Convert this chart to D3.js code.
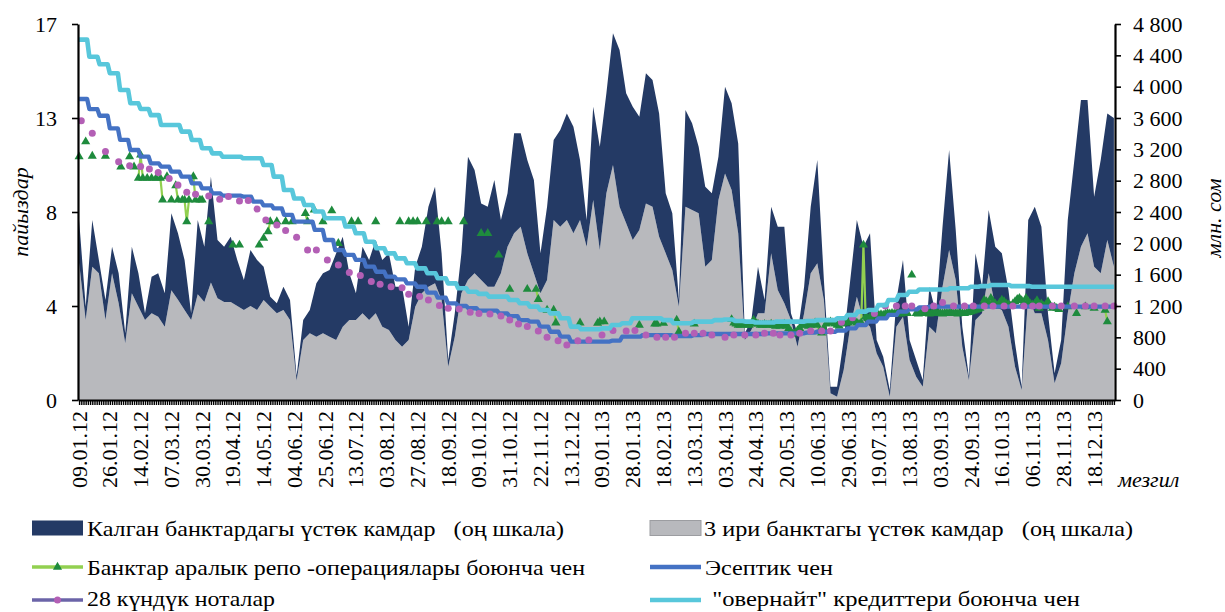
<!DOCTYPE html>
<html><head><meta charset="utf-8">
<script src="https://cdn.jsdelivr.net/npm/d3@7"></script>
<style>
body{margin:0;background:#fff}
svg{display:block}
text{font-family:"Liberation Serif","Times New Roman",serif;fill:#000}
</style>
</head><body>
<svg id="chart" width="1225" height="612"></svg>
<script>
// ---------------- DATA ----------------
const N_DAYS = 472;          // number of daily records on the category axis
const LABEL_STEP = 14;       // a date label every 14 records
const SAMPLE_STEP = 3;       // reserves sampled every 3 records

const xTickLabels = ["09.01.12","26.01.12","14.02.12","07.03.12","30.03.12","19.04.12","14.05.12","04.06.12","25.06.12","13.07.12","03.08.12","27.08.12","18.09.12","09.10.12","31.10.12","22.11.12","13.12.12","09.01.13","28.01.13","18.02.13","13.03.13","03.04.13","24.04.13","20.05.13","10.06.13","29.06.13","19.07.13","13.08.13","03.09.13","24.09.13","16.10.13","06.11.13","28.11.13","18.12.13"];

const leftTickValues = [0, 4.2, 8.4, 12.6, 16.8];
const leftTickLabels = ["0","4","8","13","17"];
const rightTickValues = [0,400,800,1200,1600,2000,2400,2800,3200,3600,4000,4400,4800];

// excess reserves, mln som (right scale)
const big3Reserves = [1750,1021,1702,1617,1021,1617,1234,723,1362,1191,1021,1106,1064,936,1400,1280,1150,1021,1350,1250,1500,1300,1250,1250,1200,1150,1200,1150,1277,1191,1106,1149,1021,250,766,851,808,851,808,766,
936,1021,1021,1106,1021,1106,936,894,766,681,766,1191,1362,1447,1489,1277,426,808,1362,1532,1617,1532,1447,1447,1617,1957,2128,2213,1872,1617,1362,1532,2298,2213,2298,2128,2298,1957,2553,1915,
2638,3000,2468,2255,2042,2170,2510,2468,2085,1872,1660,1191,2468,2425,2383,1702,1787,2553,2893,2681,2128,766,894,1106,1106,1872,1404,1234,1021,681,1106,1617,1745,1277,85,43,383,936,1319,1021,
936,596,426,43,936,1064,511,298,170,936,851,1447,1915,1532,681,255,1021,1106,1617,1191,1149,936,426,128,1319,1106,1106,766,213,468,1106,1617,1957,2128,1702,1617,2042,1700];
const otherReserves = [550,170,596,170,256,340,383,128,595,426,85,468,553,426,983,848,637,85,948,707,1351,742,707,835,587,382,715,637,425,128,128,298,256,60,255,298,681,766,852,1106,
1149,596,341,851,766,936,851,978,681,766,170,511,595,1021,1234,595,85,298,510,1574,1319,978,1021,1361,681,681,1276,1191,1192,1191,510,936,1021,1234,1361,1361,766,341,1191,1319,
1277,1681,2000,1660,1702,1447,1660,1617,1574,766,723,86,1234,1107,851,1021,851,553,1107,1106,1148,85,127,596,171,596,809,979,85,170,341,851,1319,255,85,127,383,596,979,936,
1192,170,127,85,341,723,255,213,85,511,255,766,1276,638,255,43,851,341,808,766,723,468,297,42,979,1362,1107,340,127,298,1192,1447,1873,1702,894,1447,1617,1900];

// 28-day notes: auction record index and yield, %
const notesDay = [1,6,12,18,23,28,32,36,41,45,49,53,59,64,68,73,77,81,85,90,94,99,104,108,113,118,123,128,133,137,142,147,150,155,159,164,168,173,
178,182,187,192,196,200,204,209,213,218,222,227,232,
238,243,249,253,258,263,267,271,276,280,284,288,294,298,303,308,312,316,319,324,328,333,338,342,347,352,
362,367,372,376,379,385,389,393,398,403,407,412,416,421,425,430,434,437,443,447,453,458,462,467,471];
const notes28 = [12.48,11.92,11.10,10.65,10.47,10.43,10.32,10.17,9.90,9.61,9.28,9.19,9.12,8.97,9.09,8.89,8.91,8.53,8.04,7.82,7.57,7.27,6.70,6.70,6.26,6.03,5.70,5.56,5.29,5.17,5.06,5.02,4.72,4.62,4.47,4.22,4.10,4.07,
3.92,3.87,3.84,3.75,3.57,3.40,3.28,3.08,2.80,2.65,2.46,2.65,2.68,
2.90,3.10,3.08,3.10,2.90,2.80,2.80,2.80,2.98,2.98,2.98,2.90,2.80,2.90,2.90,2.90,2.98,2.98,2.90,2.90,2.98,3.08,3.08,3.08,3.47,3.68,
3.87,4.20,4.20,4.20,4.20,4.08,4.20,4.36,4.20,4.20,4.20,4.20,4.20,4.20,4.20,4.20,4.20,4.20,4.20,4.20,4.20,4.20,4.20,4.20,4.20];

// weekly step rates, % (left scale)
const WEEKS = 102;
const accountingRate = [13.45,13.0,12.7,12.14,11.62,11.17,10.87,10.57,10.43,10.20,9.98,9.68,9.46,9.23,9.13,9.13,9.09,8.86,8.7,8.56,8.27,7.97,7.97,7.60,7.15,6.70,
6.48,6.26,5.96,5.73,5.51,5.39,5.21,5.06,4.80,4.57,4.32,4.20,4.10,3.99,3.99,3.87,3.75,3.57,3.50,3.28,3.05,2.83,2.61,2.61,2.61,
2.61,2.65,2.83,2.83,2.90,2.90,2.90,2.86,2.86,2.90,2.95,2.95,2.95,2.95,2.95,2.95,2.98,2.98,2.98,2.98,3.01,3.05,3.05,3.10,3.20,3.35,
3.50,3.65,3.80,3.95,4.05,4.14,4.17,4.17,4.17,4.17,4.17,4.17,4.17,4.17,4.17,4.17,4.17,4.17,4.17,4.17,4.17,4.17,4.17,4.17,4.17];
const overnightRate = [16.1,15.34,15.0,14.60,13.85,13.26,13.0,12.73,12.29,12.29,11.99,11.62,11.25,11.02,10.87,10.87,10.80,10.80,10.50,9.98,9.38,9.0,8.71,8.42,8.12,8.12,
7.75,7.45,7.07,6.78,6.55,6.33,6.11,5.88,5.66,5.44,5.21,4.99,4.84,4.74,4.62,4.62,4.47,4.32,4.17,4.02,3.87,3.65,3.28,3.16,3.16,
3.20,3.35,3.43,3.65,3.65,3.65,3.57,3.43,3.43,3.50,3.50,3.57,3.60,3.53,3.50,3.46,3.46,3.50,3.50,3.50,3.53,3.57,3.57,3.65,3.80,3.95,
4.02,4.24,4.47,4.69,4.84,4.94,4.94,4.94,4.99,4.99,5.06,5.09,5.14,5.14,5.09,5.09,5.06,5.06,5.06,5.06,5.06,5.06,5.06,5.06,5.06];

// interbank repo rate, % (daily, with gaps)
const repoDay = [0,3,6,12,19,23,25,27,28,29,31,33,35,37,38,40,42,44,45,47,48,49,50,52,53,55,56,59,70,73,82,84,86,87,90,94,97,103,104,107,111,115,118,124,127,135,146,150,152,154,158,163,165,168,175,183,186,191,196,204,208,209,213,216,217,228,236,237,239,255,262,263,266,272,273,280,379,450,454,458,462,467,468];
const repoRate = [10.87,11.54,10.90,10.90,10.42,10.87,10.42,9.91,10.95,9.91,9.91,9.91,9.91,9.91,8.94,9.98,8.94,9.58,8.94,8.94,8.94,7.97,8.94,9.98,8.94,8.94,8.94,7.97,6.93,6.93,6.93,7.23,7.52,7.97,7.97,7.97,7.97,8.34,7.97,8.49,7.97,8.46,7.00,7.97,7.97,7.97,7.97,7.97,7.97,7.97,7.97,7.97,7.97,7.97,7.97,7.45,7.45,6.48,4.95,4.95,4.95,4.50,4.02,4.02,3.45,3.45,3.43,3.50,3.50,3.35,3.40,3.40,3.43,3.57,3.05,3.40,5.59,4.17,3.87,4.17,4.10,4.02,3.50];
const repoRun1Start = 297;
const repoRun1 = [3.60,3.45,3.40,3.35,3.35,3.40,3.38,3.35,3.35,3.40,3.57,3.45,3.40,3.35,3.35,3.38,3.35,3.35,3.40,3.35,3.30,
3.35,3.30,3.35,
3.40,3.30,3.20,3.05,2.95,3.00,3.10,3.20,3.35,3.40,3.35,3.30,3.35,3.40,3.45,
3.35,3.05,3.00,3.20,3.40,3.45,3.50,3.45,3.40,3.35,3.30,3.40,3.45,3.50,3.45,3.50,3.55,3.50,3.45,3.40,3.45,
6.93,
3.72,3.65,3.70,3.75,3.80,3.78,3.80,3.82,3.80,3.85,3.87,3.85,3.87,3.85,3.87,3.87,3.85,3.87,3.87,3.87];
const repoRun2Start = 381;
const repoRun2 = [3.87,3.85,3.87,3.90,3.87,3.87,3.85,3.87,3.87,3.90,3.87,3.87,3.85,3.87,3.87,3.87,3.90,3.87,3.87,3.85,3.87,3.87,3.87,3.90,3.92,3.95,3.98,4.02,4.05,4.10,4.20,
4.47,4.40,4.30,4.55,4.40,4.30,4.20,4.35,4.47,4.40,4.30,4.25,4.20,4.30,4.40,4.50,4.55,4.45,4.35,4.55,4.40,4.30,4.25,4.30,4.45,4.10,4.30,4.20,4.25,4.40,4.20,4.10,4.15,4.10,4.05];

const legendLabels = ["Калган банктардагы үстөк камдар   (оң шкала)","3 ири банктагы үстөк камдар   (оң шкала)","Банктар аралык репо -операциялары боюнча чен","Эсептик чен","28 күндүк ноталар"," \"овернайт\" кредиттери боюнча чен"];

// ---------------- STYLE ----------------
const C = {navy:"#243A65", gray:"#B8B9BD", repoLine:"#92D050", repoMark:"#1E8B3D", blue:"#4472C4", purple:"#B35FB5", noteLine:"#6B64A8", cyan:"#58C7DB"};
const P = {left:78, right:1115, top:24, bottom:400};

const svg = d3.select("#chart");
const x = d3.scaleLinear().domain([-0.5, N_DAYS - 0.5]).range([P.left, P.right]);
const yL = d3.scaleLinear().domain([0, 16.8]).range([P.bottom, P.top]);
const yR = d3.scaleLinear().domain([0, 4800]).range([P.bottom, P.top]);

// ---- stacked reserves areas
const reserveRows = big3Reserves.map((b, j) => ({day: j * SAMPLE_STEP, big3: b, others: otherReserves[j]}));
const stacked = d3.stack().keys(["big3", "others"])(reserveRows);
const area = d3.area().x(d => x(d.data.day)).y0(d => yR(d[0])).y1(d => yR(d[1]));
svg.append("g").selectAll("path").data(stacked).join("path")
  .attr("fill", d => d.key === "big3" ? C.gray : C.navy)
  .attr("d", area);

// ---- repo
const repoDaily = new Array(N_DAYS).fill(null);
repoDay.forEach((d, k) => repoDaily[d] = repoRate[k]);
repoRun1.forEach((v, k) => repoDaily[repoRun1Start + k] = v);
repoRun2.forEach((v, k) => repoDaily[repoRun2Start + k] = v);
const repoLine = d3.line().defined(d => d != null).x((d, i) => x(i)).y(d => yL(d));
svg.append("path").attr("d", repoLine(repoDaily)).attr("fill", "none")
  .attr("stroke", C.repoLine).attr("stroke-width", 2.2);
const tri = d3.symbol(d3.symbolTriangle, 36);
svg.append("g").selectAll("path")
  .data(repoDaily.map((v, i) => ({i, v})).filter(d => d.v != null))
  .join("path")
  .attr("transform", d => `translate(${x(d.i)},${yL(d.v)})`)
  .attr("d", tri).attr("fill", C.repoMark);

// ---- weekly step series
const weekDay = w => w * (N_DAYS - 1) / (WEEKS - 1);
function stepPoints(vals) {
  const pts = [];
  vals.forEach((v, w) => {
    const s = weekDay(w);
    const e = w < vals.length - 1 ? weekDay(w + 1) - 1 : N_DAYS - 1;
    pts.push([s, v], [e, v]);
  });
  return pts;
}
const rateLine = d3.line().x(d => x(d[0])).y(d => yL(d[1]));

svg.append("path").attr("d", rateLine(stepPoints(accountingRate))).attr("fill", "none")
  .attr("stroke", C.blue).attr("stroke-width", 4.3).attr("stroke-linejoin", "round");

svg.append("g").selectAll("circle").data(notes28).join("circle")
  .attr("cx", (d, k) => x(notesDay[k])).attr("cy", d => yL(d)).attr("r", 3.5)
  .attr("fill", C.purple);

svg.append("path").attr("d", rateLine(stepPoints(overnightRate))).attr("fill", "none")
  .attr("stroke", C.cyan).attr("stroke-width", 4.6).attr("stroke-linejoin", "round");

// ---- axes
const FS = 22;
const axL = svg.append("g").attr("transform", `translate(${P.left},0)`)
  .call(d3.axisLeft(yL).tickValues(leftTickValues).tickFormat((d, i) => leftTickLabels[i]).tickSize(6).tickSizeOuter(0).tickPadding(15));
const fmt = d3.formatLocale({decimal: ",", thousands: " ", grouping: [3], currency: ["", ""]}).format(",d");
const axR = svg.append("g").attr("transform", `translate(${P.right},0)`)
  .call(d3.axisRight(yR).tickValues(rightTickValues).tickFormat(fmt).tickSize(6).tickSizeOuter(0).tickPadding(12));
const axB = svg.append("g").attr("transform", `translate(0,${P.bottom})`)
  .call(d3.axisBottom(x).tickValues(d3.range(N_DAYS)).tickFormat("").tickSize(5).tickSizeOuter(0));
[axL, axR, axB].forEach(g => {
  g.select(".domain").attr("stroke", "#000").attr("stroke-width", 2.2);
  g.selectAll(".tick line").attr("stroke", "#000").attr("stroke-width", 1.6);
  g.selectAll("text").attr("font-size", FS).attr("font-family", "Liberation Serif").attr("fill", "#000");
});
axB.selectAll(".tick line").attr("stroke-width", 1.4);

// date labels
svg.append("g").selectAll("text").data(xTickLabels).join("text")
  .attr("transform", (d, k) => `translate(${x(k * LABEL_STEP) + 7.5},${411}) rotate(-90)`)
  .attr("text-anchor", "end").attr("font-size", FS).text(d => d);

// axis titles
svg.append("text").attr("transform", "translate(28,212) rotate(-90)").attr("text-anchor", "middle")
  .attr("font-size", FS).attr("font-style", "italic").text("пайыздар");
svg.append("text").attr("transform", "translate(1221,218) rotate(-90)").attr("text-anchor", "middle")
  .attr("font-size", FS).attr("font-style", "italic").text("млн. сом");
svg.append("text").attr("x", 1118).attr("y", 487).attr("font-size", FS).attr("font-style", "italic").text("мезгил");

// ---- legend
const lg = svg.append("g");
const colX = [32, 650], rowY = [528, 567, 600];
lg.append("rect").attr("x", colX[0]).attr("y", rowY[0] - 7.5).attr("width", 51).attr("height", 15).attr("fill", C.navy);
lg.append("rect").attr("x", colX[1]).attr("y", rowY[0] - 7.5).attr("width", 51).attr("height", 15).attr("fill", C.gray).attr("stroke", "#9c9da1");
lg.append("line").attr("x1", colX[0]).attr("x2", colX[0] + 51).attr("y1", rowY[1]).attr("y2", rowY[1]).attr("stroke", C.repoLine).attr("stroke-width", 3.5);
lg.append("path").attr("transform", `translate(${colX[0] + 25.5},${rowY[1]})`).attr("d", tri).attr("fill", C.repoMark);
lg.append("line").attr("x1", colX[1]).attr("x2", colX[1] + 51).attr("y1", rowY[1]).attr("y2", rowY[1]).attr("stroke", C.blue).attr("stroke-width", 4.5);
lg.append("line").attr("x1", colX[0]).attr("x2", colX[0] + 51).attr("y1", rowY[2]).attr("y2", rowY[2]).attr("stroke", C.noteLine).attr("stroke-width", 3.5);
lg.append("circle").attr("cx", colX[0] + 25.5).attr("cy", rowY[2]).attr("r", 3.5).attr("fill", C.purple);
lg.append("line").attr("x1", colX[1]).attr("x2", colX[1] + 51).attr("y1", rowY[2]).attr("y2", rowY[2]).attr("stroke", C.cyan).attr("stroke-width", 4.5);

const legText = [
  {x: 87, y: 536, w: 477}, {x: 704, y: 536, w: 429},
  {x: 87, y: 575, w: 498}, {x: 705, y: 575, w: 128},
  {x: 87, y: 606, w: 188}, {x: 706, y: 606, w: 374}
];
lg.selectAll("text.lt").data(legendLabels).join("text").attr("class", "lt")
  .attr("x", (d, i) => legText[i].x).attr("y", (d, i) => legText[i].y)
  .attr("font-size", FS).attr("xml:space", "preserve").style("white-space", "pre")
  .attr("textLength", (d, i) => legText[i].w).attr("lengthAdjust", "spacingAndGlyphs")
  .text(d => d);
</script>
</body></html>
